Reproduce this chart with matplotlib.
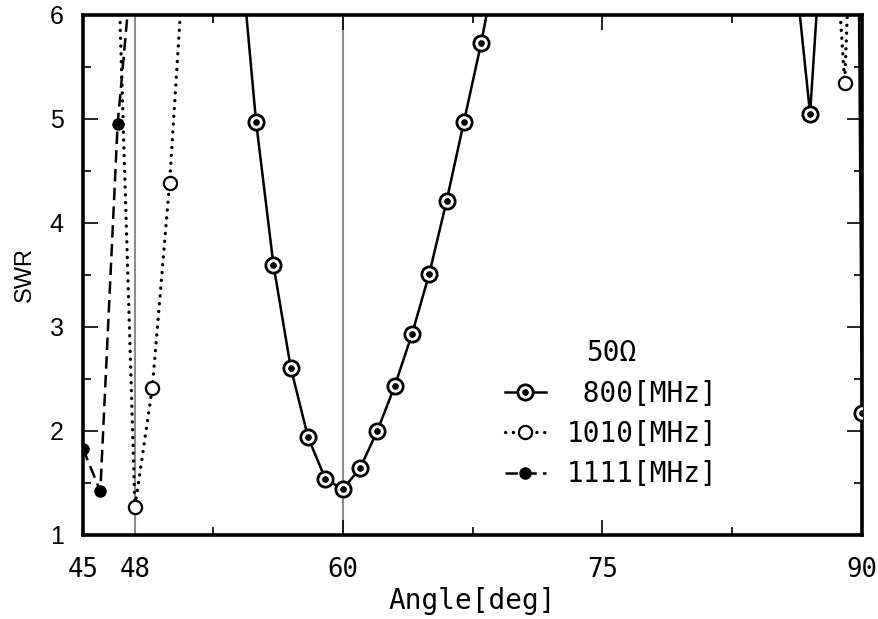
import numpy as np
import matplotlib
matplotlib.use("Agg")
import matplotlib.pyplot as plt
from matplotlib.legend_handler import HandlerTuple

# SWR vs Angle
ang_800 = [54, 55, 56, 57, 58, 59, 60, 61, 62, 63, 64, 65, 66, 67, 68, 69, 86, 87, 88, 89, 90]
swr_800 = [6.8, 4.97, 3.60, 2.61, 1.94, 1.54, 1.44, 1.64, 2.00, 2.43, 2.93, 3.51, 4.21, 4.97, 5.73, 6.6,
           6.66, 5.05, 7.6, 25.0, 2.17]

ang_1010 = [47, 48, 49, 50, 51, 88, 89, 90]
swr_1010 = [6.7, 1.27, 2.41, 4.38, 7.0, 7.9, 5.35, 9.7]

ang_1111 = [45, 46, 47, 48]
swr_1111 = [1.83, 1.42, 4.95, 6.8]

labels = [" 800[MHz]", "1010[MHz]", "1111[MHz]"]
legend_title = "50Ω"

xticks = [45, 48, 60, 75, 90]
xminor = [52.5, 67.5, 82.5]
vlines = [48, 60]

mono = "DejaVu Sans Mono"
sans = "Liberation Sans"

fig = plt.figure(figsize=(8.79, 6.19), dpi=100)
ax = fig.add_axes([83 / 879, 1 - 535 / 619, 779 / 879, 520 / 619])

for v in vlines:
    ax.axvline(v, color="#8c8c8c", lw=1.5, zorder=1)

# 800 MHz: solid line, circle with centre dot
l800, = ax.plot(ang_800, swr_800, "-", color="black", lw=1.8, marker="o", ms=11,
                mfc="white", mec="black", mew=2.0, zorder=4)
d800, = ax.plot(ang_800, swr_800, ls="none", marker="o", ms=3.8, color="black", zorder=5)

# 1010 MHz: dotted, open circles
l1010, = ax.plot(ang_1010, swr_1010, color="black", lw=2.4, ls=(0, (0.05, 2.3)),
                 dash_capstyle="round", marker="o", ms=9.5, mfc="white", mec="black",
                 mew=1.6, zorder=3)

# 1111 MHz: dashed, filled circles
l1111, = ax.plot(ang_1111, swr_1111, color="black", lw=1.8, ls=(0, (5, 2.5)),
                 marker="o", ms=8, mfc="black", mec="black", zorder=3)

ax.set_xlim(45, 90)
ax.set_ylim(1, 6)

ax.set_xticks(xticks)
ax.set_xticks(xminor, minor=True)
ax.set_yticks(np.arange(1, 7, 1))
ax.set_yticks(np.arange(1.5, 6, 1), minor=True)

ax.tick_params(which="both", direction="in", top=True, right=True, width=1.2)
ax.tick_params(which="major", length=11)
ax.tick_params(which="minor", length=6)
ax.tick_params(axis="x", which="major", pad=16, labelsize=18.5, labelfontfamily=mono)
ax.tick_params(axis="y", which="major", pad=14, labelsize=18, labelfontfamily=sans)
# the 48 tick sits under the grey line
xt = ax.xaxis.get_major_ticks()
xt[1].tick1line.set_visible(False)
xt[1].tick2line.set_visible(False)

for s in ax.spines.values():
    s.set_linewidth(2.6)

ax.set_xlabel("Angle[deg]", family=mono, fontsize=20, labelpad=3)
ax.set_ylabel("SWR", family=sans, fontsize=17, labelpad=10)

leg = ax.legend([(l800, d800), l1010, l1111], labels, title=legend_title,
                handler_map={tuple: HandlerTuple(ndivide=1)},
                loc="upper left", bbox_to_anchor=(0.51, 0.425), frameon=False,
                prop={"family": mono, "size": 20}, title_fontproperties={"family": mono, "size": 20},
                handlelength=1.45, handletextpad=0.75, labelspacing=0.45)

fig.savefig("out.png", dpi=100)
